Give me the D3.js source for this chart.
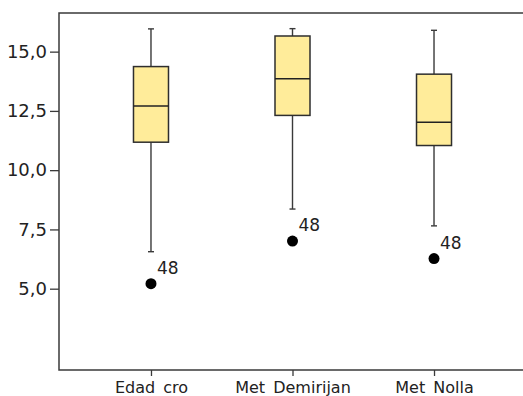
<!DOCTYPE html>
<html>
<head>
<meta charset="utf-8">
<script src="https://cdn.jsdelivr.net/npm/d3@7"></script>
<style>
  body { margin: 0; background: #fff; overflow: hidden; }
  svg { display: block; font-family: "DejaVu Sans", sans-serif; }
</style>
</head>
<body>
<svg id="chart"></svg>
<script>
// data
const categories = ['Edad cro', 'Met Demirijan', 'Met Nolla'];
const whiskerLow = [6.56, 8.36, 7.65];
const q1 = [11.18, 12.31, 11.04];
const median = [12.71, 13.86, 12.02];
const q3 = [14.37, 15.66, 14.05];
const whiskerHigh = [15.96, 15.97, 15.90];
const outlierValues = [5.21, 7.01, 6.27];
const outlierLabels = ['48', '48', '48'];
const yTicks = [5, 7.5, 10, 12.5, 15];

const width = 523;
const height = 396;
const margin = { top: 13, right: -3, bottom: 26, left: 59 };

const svg = d3.select('#chart')
  .attr('width', width)
  .attr('height', height);

const x = d3.scalePoint()
  .domain(categories)
  .range([margin.left, width - margin.right])
  .padding(0.65);

const y = d3.scaleLinear()
  .domain([1.57, 16.63])
  .range([height - margin.bottom, margin.top]);

const fmt = d => d.toFixed(1).replace('.', ',');

// frame: only top, left and bottom edges show, the right edge is cut off in the source
const x0 = margin.left, x1 = width + 10;
const yTop = margin.top, yBot = height - margin.bottom;
svg.append('path')
  .attr('d', `M${x1},${yTop}H${x0}V${yBot}H${x1}`)
  .attr('fill', 'none')
  .attr('stroke', '#3a3a3a')
  .attr('stroke-width', 1.5);

// axes
const yAxis = svg.append('g')
  .attr('transform', `translate(${margin.left},0)`)
  .call(d3.axisLeft(y).tickValues(yTicks).tickFormat(fmt).tickSize(9).tickPadding(3));
yAxis.select('.domain').remove();
yAxis.selectAll('line').attr('stroke', '#3a3a3a').attr('stroke-width', 1.3);
yAxis.selectAll('text')
  .attr('fill', '#222')
  .style('font-size', '18px')
  .style('font-family', '"DejaVu Sans", sans-serif');

const xAxis = svg.append('g')
  .attr('transform', `translate(0,${height - margin.bottom})`)
  .call(d3.axisBottom(x).tickSize(6).tickPadding(6));
xAxis.select('.domain').remove();
xAxis.selectAll('line').attr('stroke', '#3a3a3a').attr('stroke-width', 1.3);
xAxis.selectAll('text')
  .attr('fill', '#222')
  .style('font-size', '16px')
  .style('word-spacing', '3px')
  .style('font-family', '"DejaVu Sans", sans-serif');

const rows = categories.map((c, i) => ({
  c, lo: whiskerLow[i], q1: q1[i], med: median[i], q3: q3[i], hi: whiskerHigh[i],
  out: outlierValues[i], label: outlierLabels[i]
}));

const boxW = 35;
const capW = 6;

const g = svg.selectAll('.box')
  .data(rows)
  .enter()
  .append('g')
  .attr('class', 'box')
  .attr('transform', d => `translate(${x(d.c)},0)`);

// whiskers
g.append('line')
  .attr('x1', 0).attr('x2', 0)
  .attr('y1', d => y(d.hi)).attr('y2', d => y(d.q3))
  .attr('stroke', '#3a3a3a').attr('stroke-width', 1.4);
g.append('line')
  .attr('x1', 0).attr('x2', 0)
  .attr('y1', d => y(d.q1)).attr('y2', d => y(d.lo))
  .attr('stroke', '#3a3a3a').attr('stroke-width', 1.4);
g.append('line')
  .attr('x1', -capW / 2).attr('x2', capW / 2)
  .attr('y1', d => y(d.hi)).attr('y2', d => y(d.hi))
  .attr('stroke', '#3a3a3a').attr('stroke-width', 1.4);
g.append('line')
  .attr('x1', -capW / 2).attr('x2', capW / 2)
  .attr('y1', d => y(d.lo)).attr('y2', d => y(d.lo))
  .attr('stroke', '#3a3a3a').attr('stroke-width', 1.4);

// box + median
g.append('rect')
  .attr('x', -boxW / 2)
  .attr('width', boxW)
  .attr('y', d => y(d.q3))
  .attr('height', d => y(d.q1) - y(d.q3))
  .attr('fill', '#ffec9a')
  .attr('stroke', '#2e2e2e')
  .attr('stroke-width', 1.5);
g.append('line')
  .attr('x1', -boxW / 2).attr('x2', boxW / 2)
  .attr('y1', d => y(d.med)).attr('y2', d => y(d.med))
  .attr('stroke', '#222').attr('stroke-width', 1.5);

// outliers
g.append('circle')
  .attr('cx', 0)
  .attr('cy', d => y(d.out))
  .attr('r', 5.5)
  .attr('fill', '#000');
g.append('text')
  .attr('x', 6)
  .attr('y', d => y(d.out) - 10)
  .attr('fill', '#222')
  .style('font-size', '17px')
  .text(d => d.label);
</script>
</body>
</html>
